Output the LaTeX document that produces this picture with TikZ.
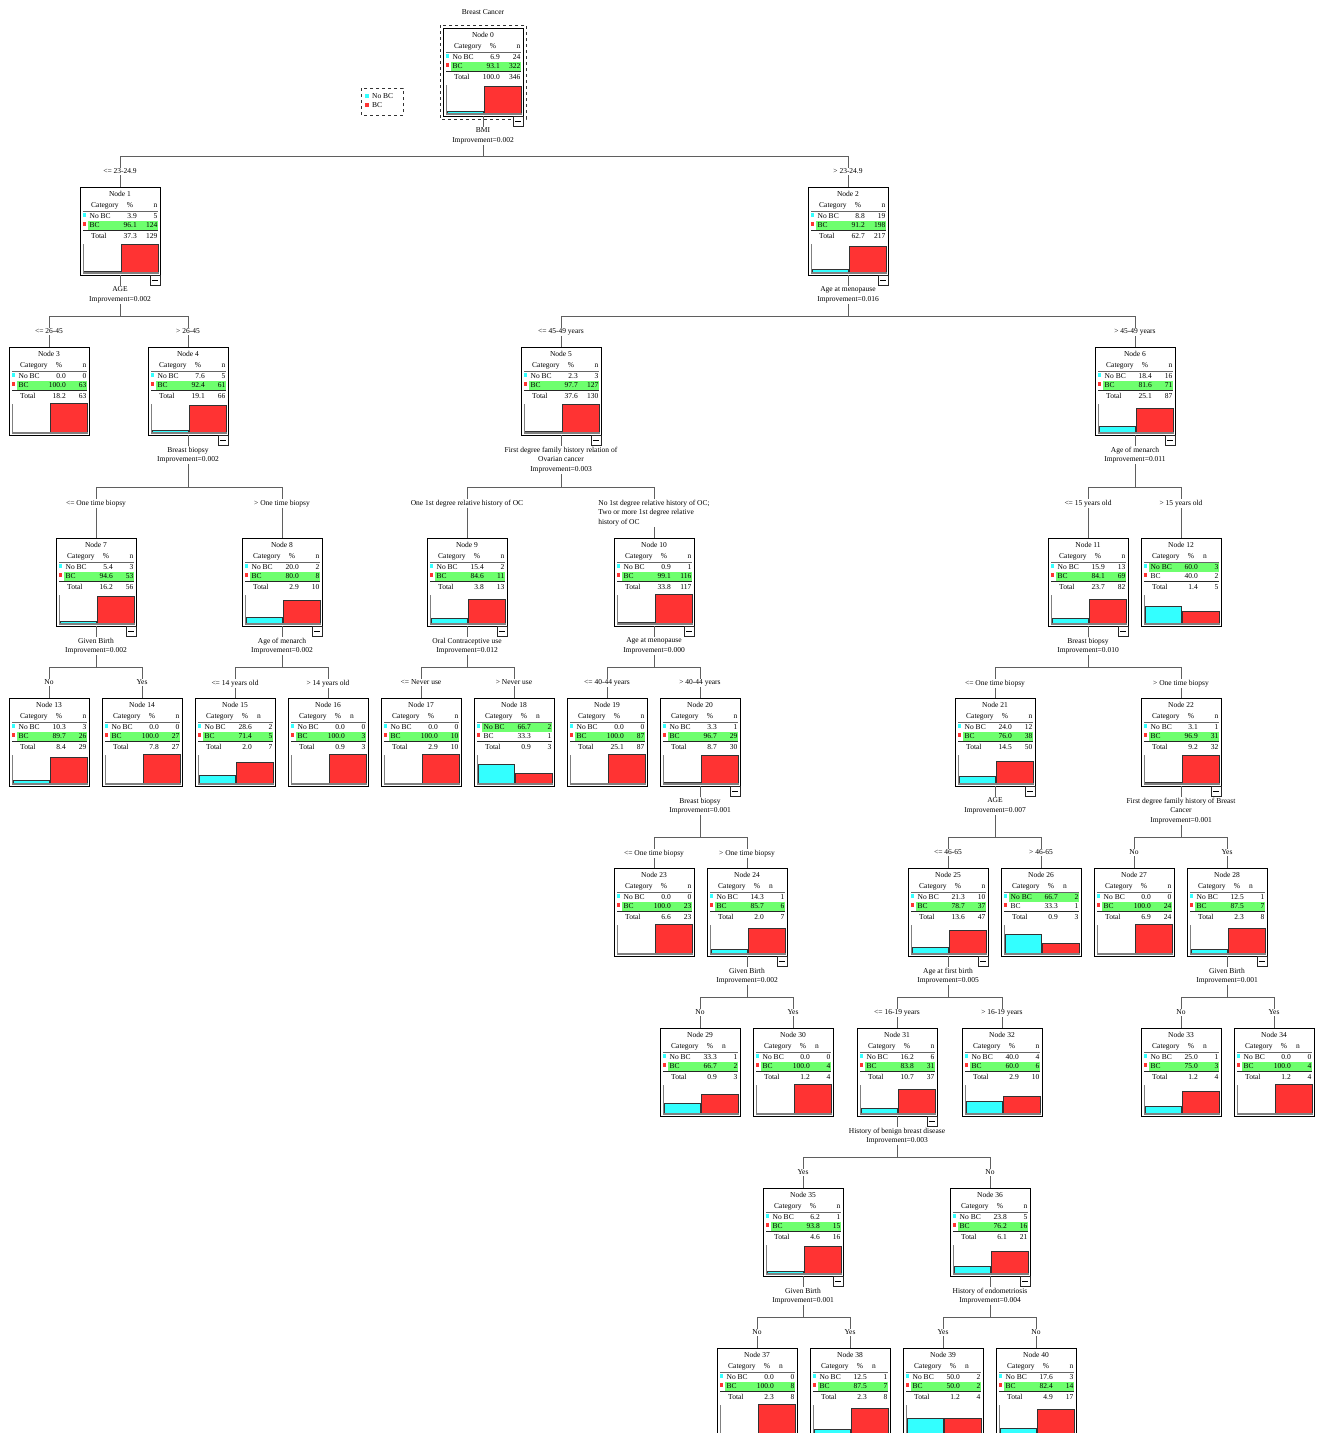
\documentclass[tikz,border=0pt]{standalone}
\usepackage{fontspec}
\setmainfont{Liberation Serif}
\usetikzlibrary{calc}
\definecolor{bcyan}{RGB}{51,255,255}
\definecolor{bred}{RGB}{255,51,51}
\definecolor{bgreen}{RGB}{110,255,110}
\definecolor{edgegray}{RGB}{95,95,95}
\newcommand\tfont{\fontsize{7.5}{9.5}\selectfont}
\tikzset{
 tbox/.style={draw=black, line width=0.8pt, fill=white, minimum width=80pt, minimum height=88pt, inner sep=0pt, outer sep=0pt, anchor=north west},
 edge/.style={draw=edgegray, line width=1pt},
 lbl/.style={fill=white, inner sep=0.8pt, align=center, font=\tfont},
 txt/.style={inner sep=0pt, font=\tfont, text height=5pt, text depth=1.5pt},
 barline/.style={draw=black!80, line width=0.6pt},
}
\newcommand\tnode[9]{%
 \node[tbox] (n#1) at (#2,#3) {};
 \pgfmathtruncatemacro\tkhl{(#4>#6)?1:0}%
 \pgfmathtruncatemacro\tkdig{(#9>9)?1:0}%
 \pgfmathsetmacro\tkbarA{#4*0.285}%
 \pgfmathsetmacro\tkbarB{#6*0.285}%
 \begin{scope}[shift={(#2,#3)}]
  \ifnum\tkhl=1 \fill[bgreen] (8,25) rectangle (78,33.8);
  \else \fill[bgreen] (8,34.4) rectangle (78,43.2); \fi
  \node[txt] at (40,8) {Node #1};
  \node[txt,anchor=west] at (11,19) {Category};
  \node[txt] at (50,19) {\%};
  \ifnum\tkdig=1 \node[txt,anchor=east] at (77.5,19) {n};
  \else \node[txt] at (64,19) {n}; \fi
  \draw[black!60, line width=0.6pt] (3,23.8) -- (78,23.8);
  \fill[bcyan] (3,25.5) rectangle (6,29.5);
  \node[txt,anchor=west] at (9.5,29.3) {No BC};
  \node[txt,anchor=east] at (57,29.3) {#4};
  \node[txt,anchor=east] at (77.5,29.3) {#5};
  \fill[bred] (3,35) rectangle (6,39);
  \node[txt,anchor=west] at (9.5,38.8) {BC};
  \node[txt,anchor=east] at (57,38.8) {#6};
  \node[txt,anchor=east] at (77.5,38.8) {#7};
  \draw[black!85, line width=0.8pt] (3,43.8) -- (78,43.8);
  \node[txt,anchor=west] at (11,49.8) {Total};
  \node[txt,anchor=east] at (57,49.8) {#8};
  \node[txt,anchor=east] at (77.5,49.8) {#9};
  \ifdim\tkbarA pt>0.2pt \filldraw[barline, fill=bcyan] (4.5,{85-\tkbarA}) rectangle (40,85); \fi
  \ifdim\tkbarB pt>0.2pt \filldraw[barline, fill=bred] (41,{85-\tkbarB}) rectangle (78,85); \fi
  \draw[black!50, line width=1pt] (3,57) -- (3,86.5);
  \draw[black!50, line width=1.4pt] (3,86) -- (78.5,86);
 \end{scope}}
\newcommand\collapse[1]{%
 \draw[black!85, line width=0.5pt, fill=white] ($(n#1.south east)+(-10,0)$) rectangle ($(n#1.south east)+(0,10)$);
 \draw[black, line width=0.6pt] ($(n#1.south east)+(-8,5.5)$) -- ($(n#1.south east)+(-2,5.5)$);}
\newcommand\tsplit[4]{%
 \coordinate (j#1) at ($(n#1.south)+(0,#4)$);
 \draw[edge] (n#1.south) -- (j#1) -| (n#2.north);
 \draw[edge] (j#1) -| (n#3.north);}
\newcommand\slabel[2]{\node[lbl,anchor=north] (s#1) at ($(n#1.south)+(0,11)$) {#2};}
\newcommand\clabel[3]{\node[lbl,anchor=north] (c#1) at ($(n#1.north |- j#2)+(0,12)$) {#3};}
\begin{document}
\begin{tikzpicture}[x=1pt,y=-1pt]
\useasboundingbox (0,0) rectangle (1326,1433);
\fill[white] (0,0) rectangle (1326,1433);
% title and legend
\node[lbl] (title) at (483,12) {Breast Cancer};
\draw[black!80, dashed, line width=0.7pt] (361,88) rectangle (403,115);
\fill[bcyan] (365,94) rectangle (369,98);
\node[txt,anchor=west] (lgA) at (372,96.5) {No BC};
\fill[bred] (365,103) rectangle (369,107);
\node[txt,anchor=west] (lgB) at (372,105.5) {BC};
% nodes
\tnode{0}{443}{28}{6.9}{24}{93.1}{322}{100.0}{346}
\draw[black!80, dashed, line width=0.7pt] (440,25) rectangle (526,119);
\tnode{1}{80}{187}{3.9}{5}{96.1}{124}{37.3}{129}
\tnode{2}{808}{187}{8.8}{19}{91.2}{198}{62.7}{217}
\tnode{3}{9}{347}{0.0}{0}{100.0}{63}{18.2}{63}
\tnode{4}{148}{347}{7.6}{5}{92.4}{61}{19.1}{66}
\tnode{5}{521}{347}{2.3}{3}{97.7}{127}{37.6}{130}
\tnode{6}{1095}{347}{18.4}{16}{81.6}{71}{25.1}{87}
\tnode{7}{56}{538}{5.4}{3}{94.6}{53}{16.2}{56}
\tnode{8}{242}{538}{20.0}{2}{80.0}{8}{2.9}{10}
\tnode{9}{427}{538}{15.4}{2}{84.6}{11}{3.8}{13}
\tnode{10}{614}{538}{0.9}{1}{99.1}{116}{33.8}{117}
\tnode{11}{1048}{538}{15.9}{13}{84.1}{69}{23.7}{82}
\tnode{12}{1141}{538}{60.0}{3}{40.0}{2}{1.4}{5}
\tnode{13}{9}{698}{10.3}{3}{89.7}{26}{8.4}{29}
\tnode{14}{102}{698}{0.0}{0}{100.0}{27}{7.8}{27}
\tnode{15}{195}{698}{28.6}{2}{71.4}{5}{2.0}{7}
\tnode{16}{288}{698}{0.0}{0}{100.0}{3}{0.9}{3}
\tnode{17}{381}{698}{0.0}{0}{100.0}{10}{2.9}{10}
\tnode{18}{474}{698}{66.7}{2}{33.3}{1}{0.9}{3}
\tnode{19}{567}{698}{0.0}{0}{100.0}{87}{25.1}{87}
\tnode{20}{660}{698}{3.3}{1}{96.7}{29}{8.7}{30}
\tnode{21}{955}{698}{24.0}{12}{76.0}{38}{14.5}{50}
\tnode{22}{1141}{698}{3.1}{1}{96.9}{31}{9.2}{32}
\tnode{23}{614}{868}{0.0}{0}{100.0}{23}{6.6}{23}
\tnode{24}{707}{868}{14.3}{1}{85.7}{6}{2.0}{7}
\tnode{25}{908}{868}{21.3}{10}{78.7}{37}{13.6}{47}
\tnode{26}{1001}{868}{66.7}{2}{33.3}{1}{0.9}{3}
\tnode{27}{1094}{868}{0.0}{0}{100.0}{24}{6.9}{24}
\tnode{28}{1187}{868}{12.5}{1}{87.5}{7}{2.3}{8}
\tnode{29}{660}{1028}{33.3}{1}{66.7}{2}{0.9}{3}
\tnode{30}{753}{1028}{0.0}{0}{100.0}{4}{1.2}{4}
\tnode{31}{857}{1028}{16.2}{6}{83.8}{31}{10.7}{37}
\tnode{32}{962}{1028}{40.0}{4}{60.0}{6}{2.9}{10}
\tnode{33}{1141}{1028}{25.0}{1}{75.0}{3}{1.2}{4}
\tnode{34}{1234}{1028}{0.0}{0}{100.0}{4}{1.2}{4}
\tnode{35}{763}{1188}{6.2}{1}{93.8}{15}{4.6}{16}
\tnode{36}{950}{1188}{23.8}{5}{76.2}{16}{6.1}{21}
\tnode{37}{717}{1348}{0.0}{0}{100.0}{8}{2.3}{8}
\tnode{38}{810}{1348}{12.5}{1}{87.5}{7}{2.3}{8}
\tnode{39}{903}{1348}{50.0}{2}{50.0}{2}{1.2}{4}
\tnode{40}{996}{1348}{17.6}{3}{82.4}{14}{4.9}{17}
% collapse boxes
\foreach \k in {0,1,2,4,5,6,7,8,9,10,11,20,21,22,24,25,28,31,35,36} {\collapse{\k}}
% edges
\tsplit{0}{1}{2}{40}
\tsplit{1}{3}{4}{41}
\tsplit{2}{5}{6}{41}
\tsplit{4}{7}{8}{52}
\tsplit{5}{9}{10}{52}
\tsplit{6}{11}{12}{52}
\tsplit{7}{13}{14}{41}
\tsplit{8}{15}{16}{41}
\tsplit{9}{17}{18}{41}
\tsplit{10}{19}{20}{41}
\tsplit{11}{21}{22}{41}
\tsplit{20}{23}{24}{51}
\tsplit{21}{25}{26}{51}
\tsplit{22}{27}{28}{51}
\tsplit{24}{29}{30}{41}
\tsplit{25}{31}{32}{41}
\tsplit{28}{33}{34}{41}
\tsplit{31}{35}{36}{41}
\tsplit{35}{37}{38}{41}
\tsplit{36}{39}{40}{41}
% split labels
\slabel{0}{BMI\\Improvement=0.002}
\slabel{1}{AGE\\Improvement=0.002}
\slabel{2}{Age at menopause\\Improvement=0.016}
\slabel{4}{Breast biopsy\\Improvement=0.002}
\slabel{5}{First degree family history relation of\\Ovarian cancer\\Improvement=0.003}
\slabel{6}{Age of menarch\\Improvement=0.011}
\slabel{7}{Given Birth\\Improvement=0.002}
\slabel{8}{Age of menarch\\Improvement=0.002}
\slabel{9}{Oral Contraceptive use\\Improvement=0.012}
\slabel{10}{Age at menopause\\Improvement=0.000}
\slabel{11}{Breast biopsy\\Improvement=0.010}
\slabel{20}{Breast biopsy\\Improvement=0.001}
\slabel{21}{AGE\\Improvement=0.007}
\slabel{22}{First degree family history of Breast\\Cancer\\Improvement=0.001}
\slabel{24}{Given Birth\\Improvement=0.002}
\slabel{25}{Age at first birth\\Improvement=0.005}
\slabel{28}{Given Birth\\Improvement=0.001}
\slabel{31}{History of benign breast disease\\Improvement=0.003}
\slabel{35}{Given Birth\\Improvement=0.001}
\slabel{36}{History of endometriosis\\Improvement=0.004}
% child labels
\clabel{1}{0}{<= 23-24.9}
\clabel{2}{0}{> 23-24.9}
\clabel{3}{1}{<= 26-45}
\clabel{4}{1}{> 26-45}
\clabel{5}{2}{<= 45-49 years}
\clabel{6}{2}{> 45-49 years}
\clabel{7}{4}{<= One time biopsy}
\clabel{8}{4}{> One time biopsy}
\clabel{9}{5}{One 1st degree relative history of OC}
\node[lbl,align=left,anchor=north] (c10) at ($(n10.north |- j5)+(0,12)$) {No 1st degree relative history of OC;\\Two or more 1st degree relative\\history of OC};
\clabel{11}{6}{<= 15 years old}
\clabel{12}{6}{> 15 years old}
\clabel{13}{7}{No}
\clabel{14}{7}{Yes}
\clabel{15}{8}{<= 14 years old}
\clabel{16}{8}{> 14 years old}
\clabel{17}{9}{<= Never use}
\clabel{18}{9}{> Never use}
\clabel{19}{10}{<= 40-44 years}
\clabel{20}{10}{> 40-44 years}
\clabel{21}{11}{<= One time biopsy}
\clabel{22}{11}{> One time biopsy}
\clabel{23}{20}{<= One time biopsy}
\clabel{24}{20}{> One time biopsy}
\clabel{25}{21}{<= 46-65}
\clabel{26}{21}{> 46-65}
\clabel{27}{22}{No}
\clabel{28}{22}{Yes}
\clabel{29}{24}{No}
\clabel{30}{24}{Yes}
\clabel{31}{25}{<= 16-19 years}
\clabel{32}{25}{> 16-19 years}
\clabel{33}{28}{No}
\clabel{34}{28}{Yes}
\clabel{35}{31}{Yes}
\clabel{36}{31}{No}
\clabel{37}{35}{No}
\clabel{38}{35}{Yes}
\clabel{39}{36}{Yes}
\clabel{40}{36}{No}
\end{tikzpicture}
\end{document}
